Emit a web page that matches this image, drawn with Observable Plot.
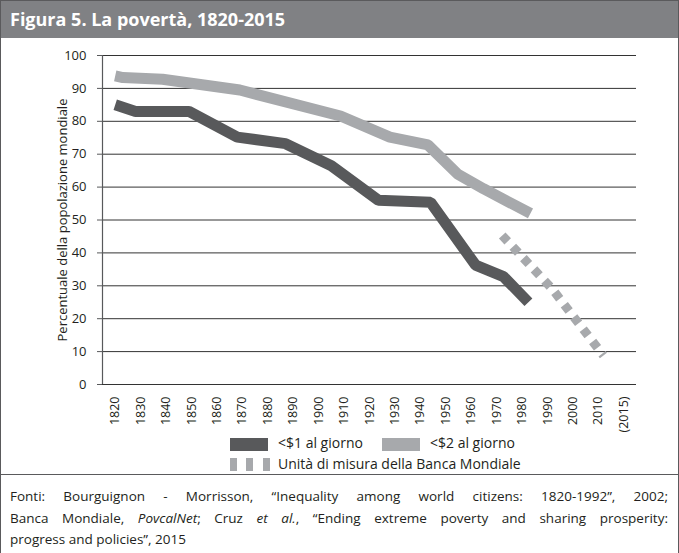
<!DOCTYPE html>
<html><head><meta charset="utf-8">
<script src="https://cdn.jsdelivr.net/npm/d3@7"></script>
<script src="https://cdn.jsdelivr.net/npm/@observablehq/plot@0.6"></script>
<style>
body{margin:0;background:#fff;font-family:"Open Sans",sans-serif;color:#231f20;}
#wrap{position:relative;width:677px;height:560px;border-left:1px solid #5a5a5c;border-right:1px solid #5a5a5c;border-top:1px solid #5a5a5c;overflow:hidden;}
#title{height:37px;background:#808184;color:#fff;font-weight:bold;font-size:18px;line-height:37px;padding-left:9px;}
#chart svg{display:block;}
#legend{position:relative;height:44px;font-size:14px;}
#legend .sw{position:absolute;display:block;}
#legend .lt{position:absolute;line-height:22px;white-space:nowrap;}
#caption{border-top:1px solid #5a5a5c;padding:11px 10px 0 9px;font-size:13.5px;line-height:21.5px;}
#caption div{white-space:nowrap;}
#caption div.j{text-align:justify;text-align-last:justify;white-space:normal;}
</style></head>
<body>
<div id="wrap">
  <div id="title"></div>
  <div id="chart"></div>
  <div id="legend"></div>
  <div id="caption"></div>
</div>
<script>
const titleText = "Figura 5. La povertà, 1820-2015";
const yLabel = "Percentuale della popolazione mondiale";
const tickYears = [1820,1830,1840,1850,1860,1870,1880,1890,1900,1910,1920,1930,1940,1950,1960,1970,1980,1990,2000,2010,2020];
const tickLabels = ["1820","1830","1840","1850","1860","1870","1880","1890","1900","1910","1920","1930","1940","1950","1960","1970","1980","1990","2000","2010","(2015)"];
const yTicks = [0,10,20,30,40,50,60,70,80,90,100];

// <$1 al giorno
const usd1Years  = [1820, 1828, 1849, 1868, 1887, 1905, 1923.5, 1944, 1961.7, 1972.7, 1982.5];
const usd1Values = [85,   83,   83,   75.2, 73.2, 66.5, 56,     55.4, 36.3,   32.8,   25];
// <$2 al giorno
const usd2Years  = [1820, 1823, 1838.6, 1869, 1908.6, 1928, 1943, 1954.6, 1964.8, 1983.3];
const usd2Values = [93.8, 93.3, 92.8,   89.5, 81.6,   75.2, 72.8, 64,     59.5,   52];
// Unità di misura della Banca Mondiale
const wbYears  = [1972.2, 1991.9, 2012];
const wbValues = [45.3,   29,     8.8];

const seriesNames = ["<$1 al giorno", "<$2 al giorno", "Unità di misura della Banca Mondiale"];
const seriesColors = ["#58595b", "#a7a9ac", "#a7a9ac"];

const captionLines = [
  'Fonti: Bourguignon - Morrisson, “Inequality among world citizens: 1820-1992”, 2002;',
  'Banca Mondiale, <i>PovcalNet</i>; Cruz <i>et al.</i>, “Ending extreme poverty and sharing prosperity:',
  'progress and policies”, 2015'
];

document.getElementById("title").textContent = titleText;
document.getElementById("caption").innerHTML = captionLines
  .map((l, i) => `<div class="${i < captionLines.length - 1 ? "j" : ""}">${l}</div>`).join("");

const toRows = (xs, ys) => xs.map((x, i) => ({year: x, value: ys[i]}));
const usd1 = toRows(usd1Years, usd1Values);
const usd2 = toRows(usd2Years, usd2Values);
const wb = toRows(wbYears, wbValues);
const xDomain = [1815, 2025];
const labelMap = new Map(tickYears.map((y, i) => [y, tickLabels[i]]));

const chart = Plot.plot({
  width: 677, height: 392,
  marginLeft: 101, marginRight: 42, marginTop: 17, marginBottom: 46,
  x: {domain: xDomain},
  y: {domain: [0, 100]},
  style: {fontFamily: "Open Sans", fontSize: "13px", color: "#231f20", background: "transparent", overflow: "visible"},
  marks: [
    Plot.ruleY(yTicks, {stroke: "#333", strokeWidth: 1}),
    Plot.ruleX([xDomain[0]], {y1: yTicks[0], y2: yTicks[yTicks.length - 1], stroke: "#58595b", strokeWidth: 1.2}),
    Plot.axisY({ticks: yTicks, tickSize: 5, tickPadding: 11, fontSize: 13, label: null, stroke: "#58595b"}),
    Plot.axisX({ticks: tickYears, tickFormat: d => labelMap.get(d), tickRotate: -90, tickSize: 0, tickPadding: 12, fontSize: 12.5, label: null}),
    Plot.line(wb, {x: "year", y: "value", stroke: seriesColors[2], strokeWidth: 9, strokeDasharray: "8,7.5", strokeLinejoin: "miter", strokeLinecap: "butt"}),
    Plot.line(usd2, {x: "year", y: "value", stroke: seriesColors[1], strokeWidth: 11, strokeLinejoin: "miter", strokeLinecap: "butt"}),
    Plot.line(usd1, {x: "year", y: "value", stroke: seriesColors[0], strokeWidth: 11, strokeLinejoin: "miter", strokeLinecap: "butt"}),
    Plot.text([yLabel], {frameAnchor: "left", textAnchor: "middle", rotate: -90, dx: -40, fontSize: 13, fill: "#231f20"})
  ]
});
document.getElementById("chart").appendChild(chart);

// legend
const legend = document.getElementById("legend");
function add(cls, style, text) {
  const el = document.createElement("span");
  el.className = cls;
  Object.assign(el.style, style);
  if (text) el.textContent = text;
  legend.appendChild(el);
}
add("sw", {left: "229px", top: "8px", width: "38px", height: "13px", background: seriesColors[0]});
add("lt", {left: "277px", top: "2px"}, seriesNames[0]);
add("sw", {left: "381px", top: "8px", width: "38px", height: "13px", background: seriesColors[1]});
add("lt", {left: "429px", top: "2px"}, seriesNames[1]);
[229, 245, 262].forEach(x => add("sw", {left: x + "px", top: "28px", width: "7px", height: "13px", background: seriesColors[2]}));
add("lt", {left: "277px", top: "23px"}, seriesNames[2]);
</script>
</body></html>
